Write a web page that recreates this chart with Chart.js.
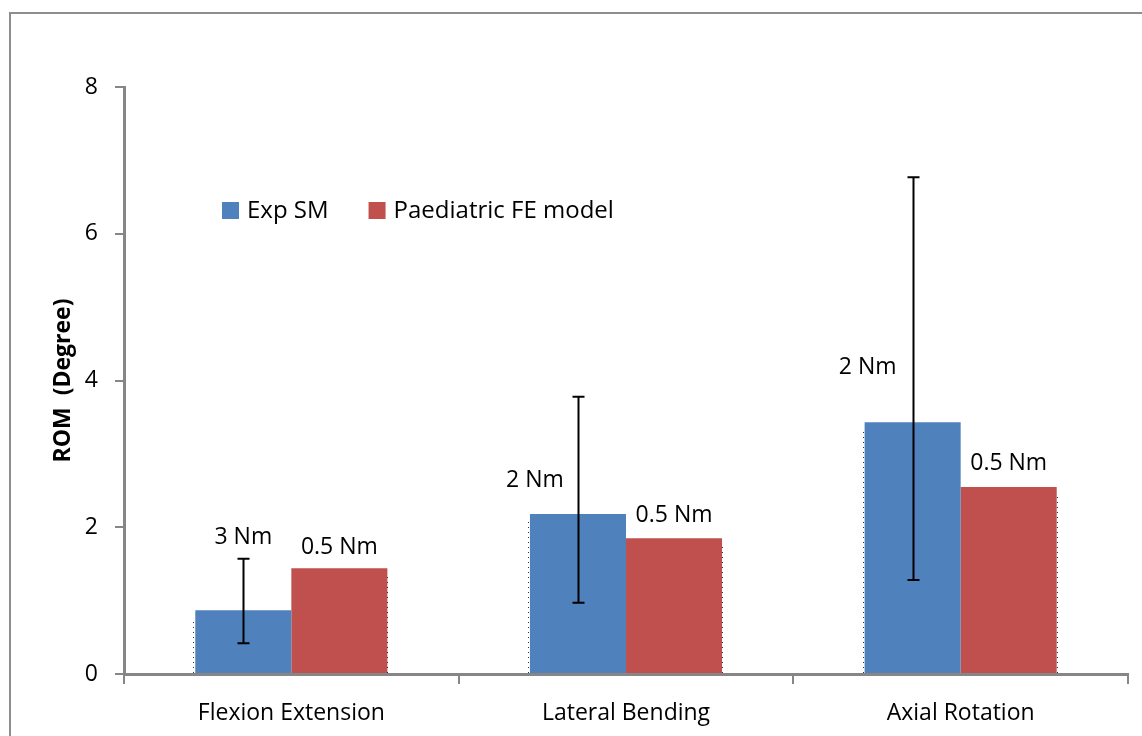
<!DOCTYPE html>
<html>
<head>
<meta charset="utf-8">
<script src="https://cdn.jsdelivr.net/npm/chart.js@4"></script>
<style>
  body { margin: 0; background: #fff; }
  #wrap { width: 1142px; height: 736px; position: relative; }
</style>
</head>
<body>
<div id="wrap"><canvas id="romChart" width="1142" height="736"></canvas></div>
<script>
// values
const categories = ['Flexion Extension', 'Lateral Bending', 'Axial Rotation'];
const expSM = [0.87, 2.18, 3.43];
const paedFE = [1.44, 1.85, 2.55];
const expErrLow = [0.42, 0.97, 1.28];
const expErrHigh = [1.57, 3.78, 6.77];
const expLoads = ['3 Nm', '2 Nm', '2 Nm'];
const feLoads = ['0.5 Nm', '0.5 Nm', '0.5 Nm'];
const yTicks = [0, 2, 4, 6, 8];

const FONT = '"Open Sans", "DejaVu Sans", sans-serif';
const AXIS_GREY = '#868686';

// where the load labels sit, relative to the top centre of each bar
const expLabelShift = [[0, -73], [-43, -34], [-45, -55]];
const feLabelShift = [[0, -21], [0, -23], [0, -23]];

const extras = {
  id: 'extras',
  beforeDraw(chart) {
    const ctx = chart.ctx;
    ctx.save();
    ctx.fillStyle = '#fff';
    ctx.fillRect(0, 0, chart.width, chart.height);
    // outer frame (only left/top visible in the crop)
    ctx.strokeStyle = '#8e8e8e';
    ctx.lineWidth = 2;
    ctx.strokeRect(10, 13, chart.width + 20, chart.height + 20);
    ctx.restore();
  },
  afterDatasetsDraw(chart) {
    const ctx = chart.ctx;
    const y = chart.scales.y;
    const expBars = chart.getDatasetMeta(0).data;
    const feBars = chart.getDatasetMeta(1).data;
    ctx.save();

    // faint dotted edges like the original export
    ctx.strokeStyle = '#333';
    ctx.lineWidth = 1;
    ctx.setLineDash([1, 4]);
    expBars.forEach((b) => {
      const x = Math.round(b.x - b.width / 2) - 1.5;
      ctx.beginPath(); ctx.moveTo(x, b.base); ctx.lineTo(x, b.y + 8); ctx.stroke();
    });
    feBars.forEach((b) => {
      const x = Math.round(b.x + b.width / 2) + 0.5;
      ctx.beginPath(); ctx.moveTo(x, b.base); ctx.lineTo(x, b.y + 8); ctx.stroke();
    });
    ctx.setLineDash([]);

    // error bars on Exp SM
    ctx.strokeStyle = '#000';
    ctx.lineWidth = 2;
    expBars.forEach((b, i) => {
      const x = Math.round(b.x) + 0.5;
      const top = y.getPixelForValue(expErrHigh[i]);
      const bot = y.getPixelForValue(expErrLow[i]);
      ctx.beginPath();
      ctx.moveTo(x, top); ctx.lineTo(x, bot);
      ctx.moveTo(x - 6, top); ctx.lineTo(x + 6, top);
      ctx.moveTo(x - 6, bot); ctx.lineTo(x + 6, bot);
      ctx.stroke();
    });

    // load labels
    ctx.fillStyle = '#000';
    ctx.font = '23px ' + FONT;
    ctx.textAlign = 'center';
    ctx.textBaseline = 'middle';
    expBars.forEach((b, i) => {
      ctx.fillText(expLoads[i], b.x + expLabelShift[i][0], b.y + expLabelShift[i][1]);
    });
    feBars.forEach((b, i) => {
      ctx.fillText(feLoads[i], b.x + feLabelShift[i][0], b.y + feLabelShift[i][1]);
    });

    // legend inside the plot
    ctx.font = '24px ' + FONT;
    let lx = 222;
    const ly = 210;
    ctx.textAlign = 'left';
    chart.data.datasets.forEach((ds) => {
      ctx.fillStyle = ds.backgroundColor;
      ctx.fillRect(lx, ly - 8, 17, 17);
      ctx.fillStyle = '#000';
      ctx.fillText(ds.label, lx + 25, ly + 1);
      lx += 25 + ctx.measureText(ds.label).width + 40;
    });
    ctx.restore();
  }
};

new Chart(document.getElementById('romChart'), {
  type: 'bar',
  data: {
    labels: categories,
    datasets: [{
      label: 'Exp SM',
      data: expSM,
      backgroundColor: '#4F81BD',
      borderWidth: 0
    }, {
      label: 'Paediatric FE model',
      data: paedFE,
      backgroundColor: '#C0504D',
      borderWidth: 0
    }]
  },
  options: {
    responsive: false,
    animation: false,
    categoryPercentage: 0.574,
    barPercentage: 1,
    layout: {
      padding: { top: 87, right: 14, bottom: 0, left: 0 }
    },
    scales: {
      x: {
        grid: {
          offset: true,
          drawOnChartArea: false,
          color: AXIS_GREY,
          lineWidth: 2,
          tickLength: 10
        },
        border: { color: AXIS_GREY, width: 3 },
        ticks: {
          color: '#000',
          padding: 16,
          font: { family: FONT, size: 23 }
        },
        afterFit(scale) { scale.height = 62; }
      },
      y: {
        min: 0,
        max: 8,
        afterBuildTicks(scale) {
          scale.ticks = yTicks.map(v => ({ value: v }));
        },
        grid: {
          drawOnChartArea: false,
          color: AXIS_GREY,
          lineWidth: 2,
          tickLength: 9
        },
        border: { color: AXIS_GREY, width: 3 },
        ticks: {
          color: '#000',
          padding: 17,
          font: { family: FONT, size: 23 }
        },
        title: {
          display: true,
          text: 'ROM  (Degree)',
          color: '#000',
          font: { family: FONT, size: 23, weight: 'bold' },
          padding: { top: 50, bottom: 0 }
        },
        afterFit(scale) { scale.width = 124; }
      }
    },
    plugins: {
      legend: { display: false },
      tooltip: { enabled: false }
    }
  },
  plugins: [extras]
});
</script>
</body>
</html>
